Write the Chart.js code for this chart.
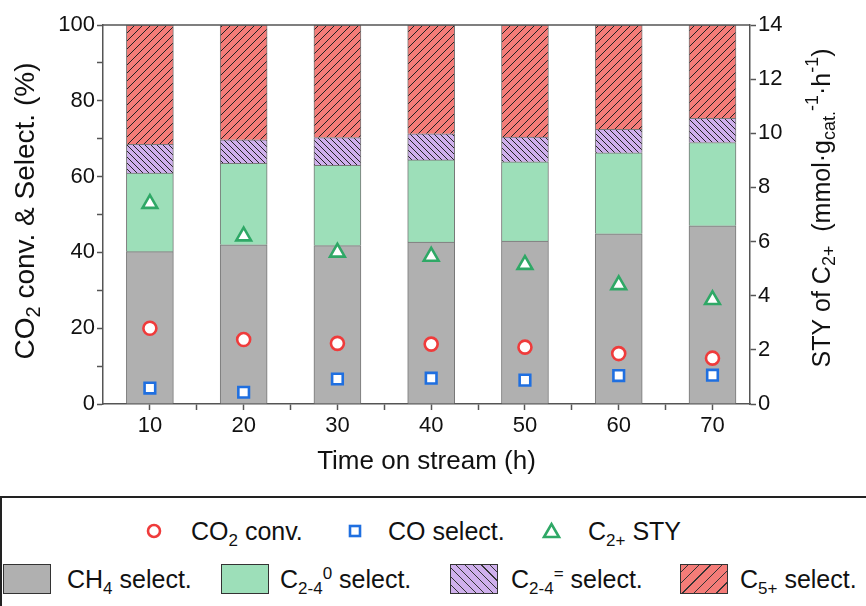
<!DOCTYPE html>
<html>
<head>
<meta charset="utf-8">
<script src="https://cdn.jsdelivr.net/npm/chart.js@4"></script>
<style>
  body { margin: 0; background: #fff; font-family: "Liberation Sans", Arial, sans-serif; }
  #wrap { position: relative; width: 866px; height: 490px; }
  #legend { position: absolute; top: 496px; left: 0; width: 870px; height: 130px;
            border: 2px solid #222; box-sizing: border-box; }
  .item { position: absolute; font-size: 25px; color: #111; white-space: nowrap; line-height: 1; }
  .item sub, .item sup { font-size: 17px; line-height: 0; }
  .box { position: absolute; width: 48px; height: 30px; box-sizing: border-box; border: 1.5px solid #333; }
</style>
</head>
<body>
<div id="wrap"><canvas id="chart" width="866" height="490"></canvas></div>
<div id="legend">
  <svg style="position:absolute;left:0;top:0" width="866" height="110">
    <circle cx="152" cy="33" r="6" fill="#fff" stroke="#ef3b3b" stroke-width="2.6"/>
    <rect x="348" y="28" width="10" height="10" fill="#fff" stroke="#1f6fe0" stroke-width="2.6"/>
    <polygon points="542,39 557,39 549.5,26" fill="#fff" stroke="#2fa866" stroke-width="2.6"/>
  </svg>
  <div class="item" style="left:189px;top:21px">CO<sub>2</sub> conv.</div>
  <div class="item" style="left:386px;top:21px">CO select.</div>
  <div class="item" style="left:586px;top:21px">C<sub>2+</sub> STY</div>

  <div class="box" style="left:1px;top:66px;background:#b0b0b0"></div>
  <div class="item" style="left:65px;top:69px">CH<sub>4</sub> select.</div>
  <div class="box" style="left:219px;top:66px;background:#9ddfb9"></div>
  <div class="item" style="left:278px;top:69px">C<sub>2-4</sub><sup>0</sup> select.</div>
  <div class="box" style="left:448px;top:66px;background:repeating-linear-gradient(45deg,#cfb0ec 0 5px,#333 5px 6px)"></div>
  <div class="item" style="left:509px;top:69px">C<sub>2-4</sub><sup>=</sup> select.</div>
  <div class="box" style="left:678px;top:66px;background:repeating-linear-gradient(-45deg,#f47c78 0 7px,#333 7px 8px)"></div>
  <div class="item" style="left:738px;top:69px">C<sub>5+</sub> select.</div>
</div>
<script>
// values
const hours = [10, 20, 30, 40, 50, 60, 70];
const ch4Sel = [40.2, 42.0, 41.8, 42.7, 43.0, 44.9, 47.0];
const c24ParSel = [20.7, 21.5, 21.2, 21.7, 20.9, 21.4, 22.0];
const c24OleSel = [7.6, 6.2, 7.3, 6.9, 6.5, 6.2, 6.4];
const c5Sel = [31.5, 30.3, 29.7, 28.7, 29.6, 27.5, 24.6];
const co2Conv = [20.0, 17.0, 16.0, 15.8, 15.0, 13.3, 12.1];
const coSel = [4.2, 3.1, 6.6, 6.8, 6.3, 7.5, 7.6];
const c2Sty = [7.4, 6.2, 5.6, 5.45, 5.15, 4.4, 3.85];

const xTicks = [10, 20, 30, 40, 50, 60, 70];
const leftTicks = [0, 20, 40, 60, 80, 100];
const rightTicks = [0, 2, 4, 6, 8, 10, 12, 14];

function pts(vals) {
  return hours.map((h, i) => ({ x: h, y: vals[i] }));
}

function hatch(bg, dir, s) {
  const c = document.createElement('canvas');
  c.width = c.height = s;
  const g = c.getContext('2d');
  g.fillStyle = bg;
  g.fillRect(0, 0, s, s);
  g.strokeStyle = '#222';
  g.lineWidth = 1;
  g.beginPath();
  if (dir > 0) {
    g.moveTo(0, s); g.lineTo(s, 0);
    g.moveTo(-1, 1); g.lineTo(1, -1);
    g.moveTo(s - 1, s + 1); g.lineTo(s + 1, s - 1);
  } else {
    g.moveTo(0, 0); g.lineTo(s, s);
    g.moveTo(-1, s - 1); g.lineTo(1, s + 1);
    g.moveTo(s - 1, -1); g.lineTo(s + 1, 1);
  }
  g.stroke();
  return g.createPattern(c, 'repeat');
}

const FONT = '"Liberation Sans", Arial, sans-serif';

function drawRich(ctx, parts, cx, cy, size) {
  let w = 0;
  parts.forEach(p => {
    ctx.font = (p[1] === 'n' ? size : Math.round(size * 0.7)) + 'px ' + FONT;
    p.w = ctx.measureText(p[0]).width;
    w += p.w;
  });
  let x = cx - w / 2;
  parts.forEach(p => {
    ctx.font = (p[1] === 'n' ? size : Math.round(size * 0.7)) + 'px ' + FONT;
    let dy = 0;
    if (p[1] === 'sub') dy = size * 0.3;
    if (p[1] === 'sup') dy = -size * 0.38;
    ctx.fillText(p[0], x, cy + dy);
    x += p.w;
  });
}

const extras = {
  id: 'extras',
  afterDraw(chart) {
    const ctx = chart.ctx;
    const a = chart.chartArea;
    ctx.save();
    ctx.strokeStyle = '#555';
    ctx.lineWidth = 1.5;
    ctx.beginPath();
    ctx.moveTo(a.left, a.top);
    ctx.lineTo(a.right, a.top);
    ctx.stroke();
    ctx.fillStyle = '#111';
    ctx.textBaseline = 'middle';
    ctx.textAlign = 'left';
    drawRich(ctx, [['Time on stream (h)', 'n']], (a.left + a.right) / 2, 462, 26);
    ctx.translate(26, 211);
    ctx.rotate(-Math.PI / 2);
    drawRich(ctx, [['CO', 'n'], ['2', 'sub'], [' conv. & Select. (%)', 'n']], 0, 0, 28);
    ctx.restore();
    ctx.save();
    ctx.fillStyle = '#111';
    ctx.textBaseline = 'middle';
    ctx.textAlign = 'left';
    ctx.translate(823, 208);
    ctx.rotate(-Math.PI / 2);
    drawRich(ctx, [['STY of C', 'n'], ['2+', 'sub'], ['  (mmol·g', 'n'], ['cat.', 'sub'],
      ['-1', 'sup'], ['·h', 'n'], ['-1', 'sup'], [')', 'n']], 0, 0, 25);
    ctx.restore();
  }
};

const barBase = { type: 'bar', yAxisID: 'y', barThickness: 47, borderWidth: 1, borderColor: '#777', order: 2 };
const markBase = { type: 'scatter', backgroundColor: '#fff', borderWidth: 2.6, order: 1 };

new Chart(document.getElementById('chart'), {
  data: {
    datasets: [
      { ...barBase, label: 'CH4 select.', data: pts(ch4Sel), backgroundColor: '#b0b0b0' },
      { ...barBase, label: 'C2-4 0 select.', data: pts(c24ParSel), backgroundColor: '#9ddfb9' },
      { ...barBase, label: 'C2-4 = select.', data: pts(c24OleSel), backgroundColor: hatch('#cfb0ec', -1, 6) },
      { ...barBase, label: 'C5+ select.', data: pts(c5Sel), backgroundColor: hatch('#f47c78', 1, 8) },
      { ...markBase, label: 'CO2 conv.', yAxisID: 'yp', data: pts(co2Conv), borderColor: '#ef3b3b', pointStyle: 'circle', pointRadius: 6.5 },
      { ...markBase, label: 'CO select.', yAxisID: 'yp', data: pts(coSel), borderColor: '#1f6fe0', pointStyle: 'rect', pointRadius: 7.5 },
      { ...markBase, label: 'C2+ STY', yAxisID: 'y1', data: pts(c2Sty), borderColor: '#2fa866', pointStyle: 'triangle', pointRadius: 8.5 }
    ]
  },
  options: {
    responsive: false,
    animation: false,
    layout: { padding: { top: 25, left: 0, right: 0, bottom: 0 } },
    plugins: { legend: { display: false }, tooltip: { enabled: false } },
    scales: {
      x: {
        type: 'linear', min: 5, max: 74, stacked: true, offset: false,
        afterBuildTicks: s => { s.ticks = s.ticks.filter(t => t.value >= 10 && t.value <= 70); },
        afterFit: s => { s.height = 86; },
        ticks: { stepSize: 5, includeBounds: false, padding: 3, color: '#111', font: { family: FONT, size: 22 },
          callback: v => xTicks.includes(v) ? v : '' },
        grid: { drawOnChartArea: false, tickLength: 6, color: '#555', tickWidth: 1.5, offset: false },
        border: { color: '#555', width: 1.5 }
      },
      y: {
        stacked: true, min: 0, max: 100, position: 'left',
        afterFit: s => { s.width = 103; },
        ticks: { stepSize: 10, padding: 2, color: '#111', font: { family: FONT, size: 22 },
          callback: v => leftTicks.includes(v) ? v : '' },
        grid: { drawOnChartArea: false, tickLength: 6, color: '#555', tickWidth: 1.5 },
        border: { color: '#555', width: 1.5 }
      },
      yp: { min: 0, max: 100, display: false },
      y1: {
        min: 0, max: 14, position: 'right',
        afterFit: s => { s.width = 116; },
        ticks: { stepSize: 2, padding: 2, color: '#111', font: { family: FONT, size: 22 },
          callback: v => rightTicks.includes(v) ? v : '' },
        grid: { drawOnChartArea: false, tickLength: 6, color: '#555', tickWidth: 1.5 },
        border: { color: '#555', width: 1.5 }
      }
    }
  },
  plugins: [extras]
});
</script>
</body>
</html>
